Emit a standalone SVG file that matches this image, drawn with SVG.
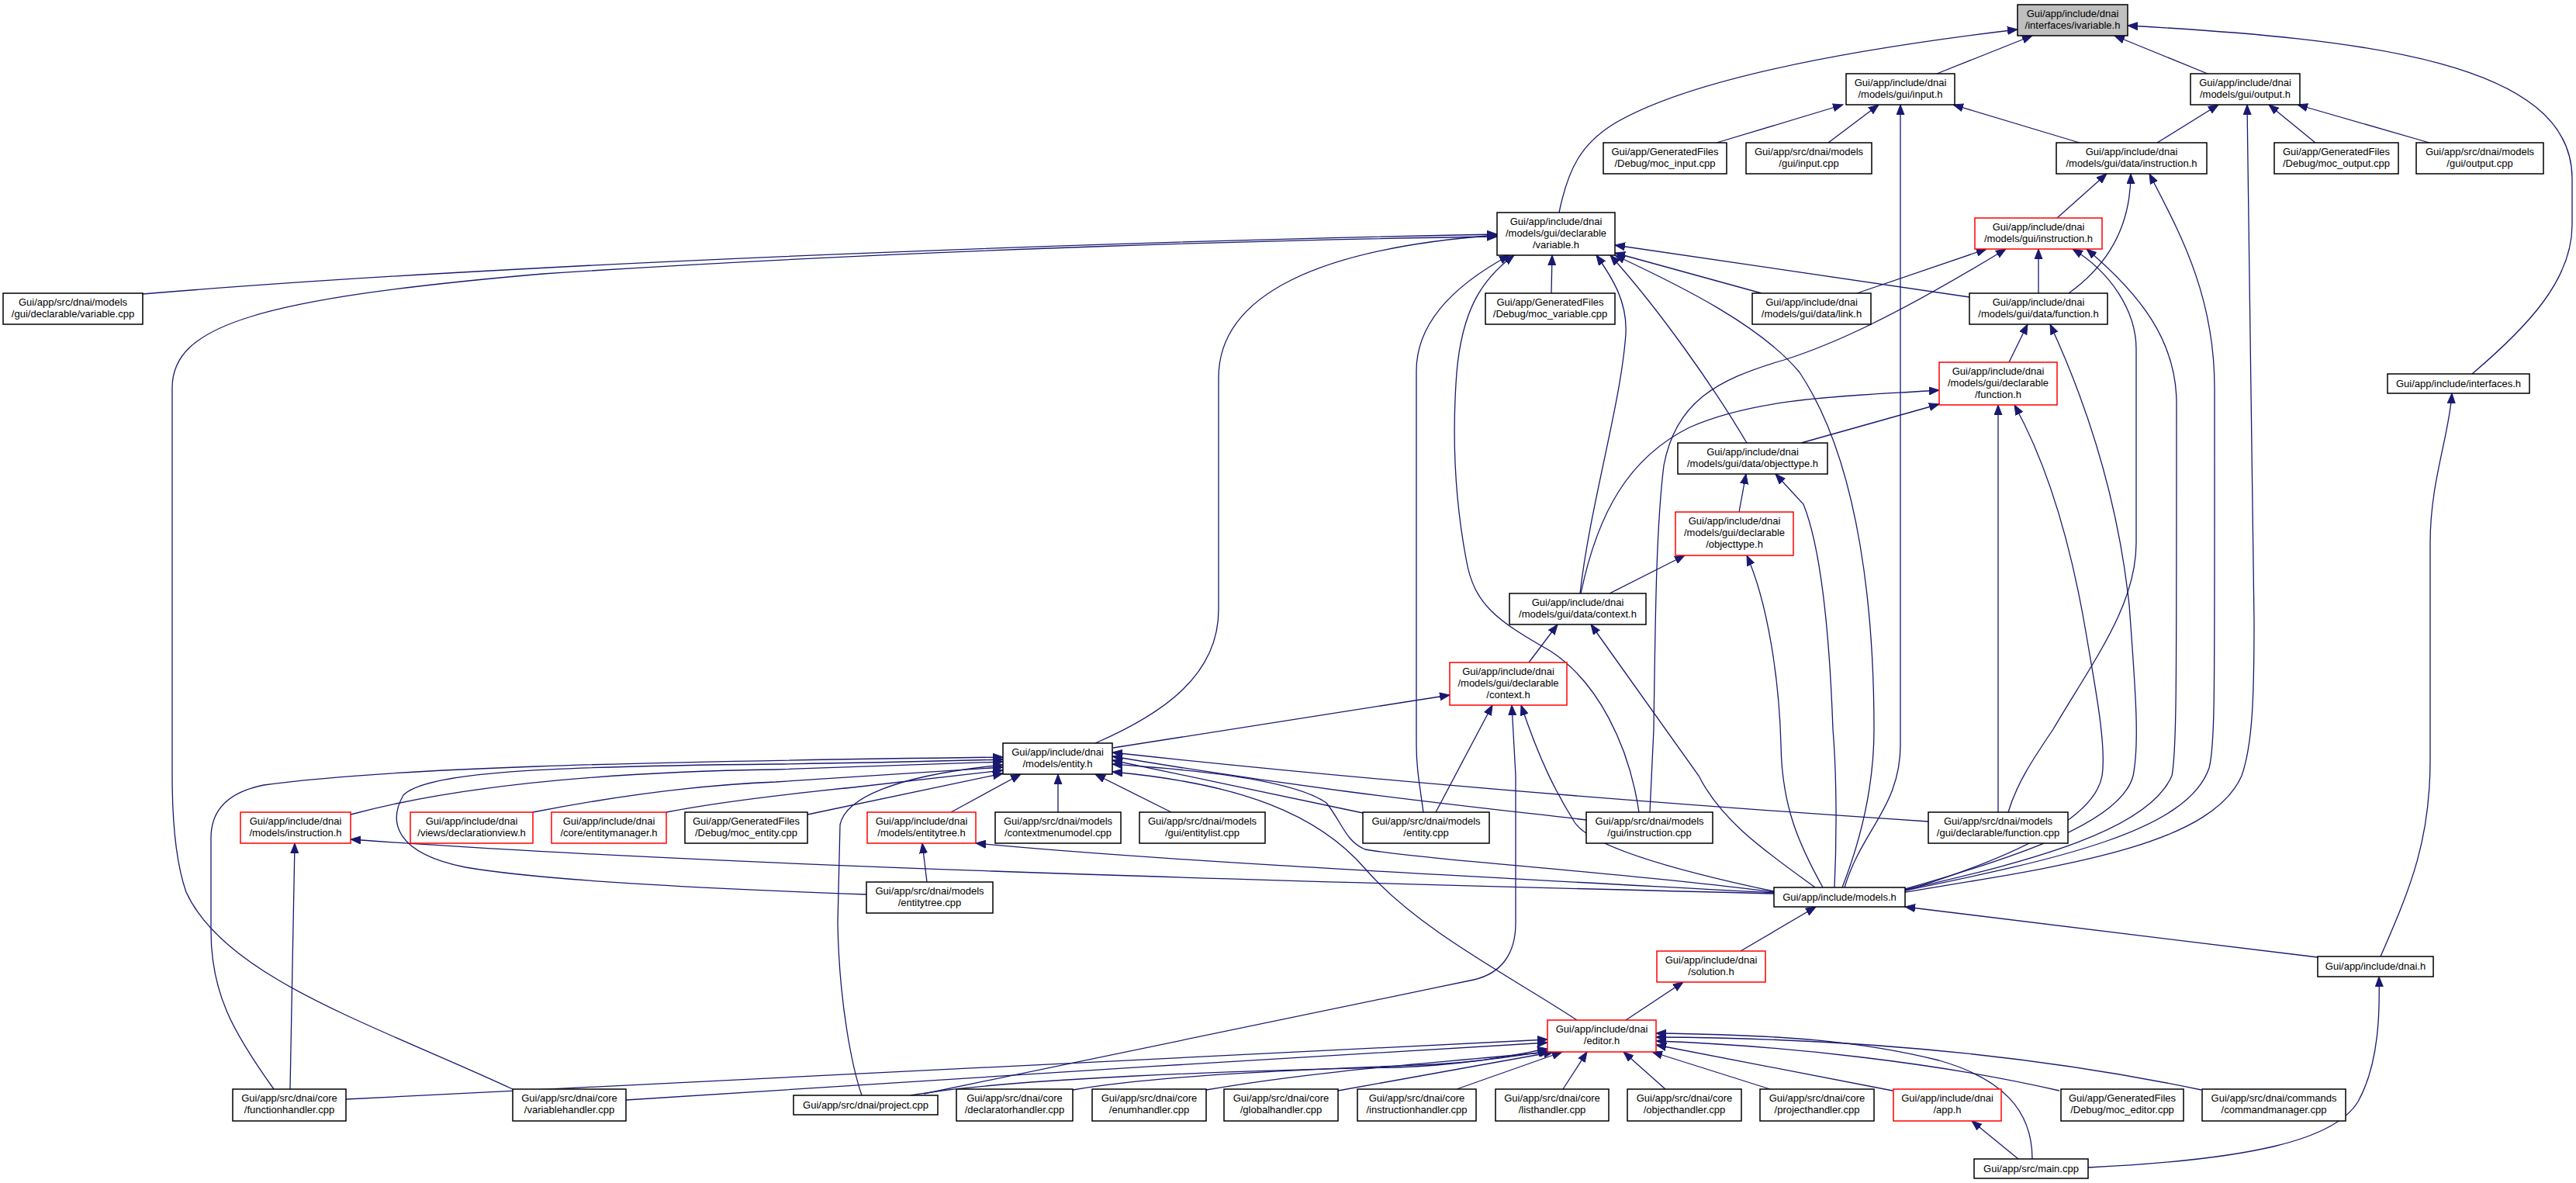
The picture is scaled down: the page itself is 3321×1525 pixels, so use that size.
<svg xmlns="http://www.w3.org/2000/svg" width="3321" height="1525" viewBox="0 0 3321 1525">
<style>
.n rect{fill:#fff;stroke:#000;stroke-width:1.5}
.n.r rect{stroke:#f00}
.n.g rect{fill:#bfbfbf}
text{font-family:"Liberation Sans",Arial,sans-serif;font-size:13px;text-anchor:middle;fill:#000}
#edges path{fill:none;stroke:#191970;stroke-width:1.3;marker-end:url(#a)}
</style>
<defs>
<marker id="a" markerUnits="userSpaceOnUse" markerWidth="14" markerHeight="11" refX="13" refY="5.5" orient="auto" viewBox="0 0 14 11">
<path d="M0,0.5 L13,5.5 L0,10.5 z" fill="#191970" stroke="#191970" stroke-width="1"/>
</marker>
</defs>
<rect width="3321" height="1525" fill="#fff"/>
<g id="edges">
<path d="M2497,95 L2620,46"/>
<path d="M2846,95 L2726,46"/>
<path d="M2010,274 C2022,215 2040,185 2080,160 C2180,100 2400,62 2601,38"/>
<path d="M3187,482 C3260,420 3316,360 3316,290 L3316,230 C3316,80 3050,50 2743,33"/>
<path d="M2213,184 L2376,135"/>
<path d="M2357,184 L2422,135"/>
<path d="M2681,184 L2518,135"/>
<path d="M2378,1144 C2400,1070 2450,1040 2450,960 L2450,135"/>
<path d="M2781,184 L2860,135"/>
<path d="M2985,184 L2925,135"/>
<path d="M3132,184 L2962,135"/>
<path d="M2456,1150 C2650,1118 2850,1092 2890,1000 C2904,960 2906,900 2906,800 L2897,135"/>
<path d="M2652,281 L2716,224"/>
<path d="M2667,378 C2720,340 2747,290 2747,224"/>
<path d="M2456,1148 C2650,1108 2820,1072 2848,990 C2856,960 2855,900 2855,500 C2855,380 2810,300 2771,224"/>
<path d="M184,379 C700,336 1500,310 1930,302"/>
<path d="M661,1404 C480,1320 290,1260 240,1150 C226,1110 222,1050 222,1000 L222,500 C222,420 330,385 700,353 C1200,320 1700,308 1930,305"/>
<path d="M1412,958 C1500,920 1571,870 1571,786 L1571,487 C1571,380 1700,320 1930,303"/>
<path d="M2000,378 L2001,329"/>
<path d="M1835,1047 C1830,1010 1826,990 1826,960 L1826,478 C1826,420 1870,370 1946,329"/>
<path d="M2113,1047 C2100,960 2060,880 2000,840 C1930,800 1900,780 1890,720 C1875,640 1872,560 1878,480 C1885,400 1910,360 1952,329"/>
<path d="M2037,765 C2050,650 2090,520 2096,430 C2098,390 2080,360 2058,329"/>
<path d="M2252,571 C2210,500 2140,400 2076,329"/>
<path d="M2271,378 L2082,326"/>
<path d="M2539,383 L2082,316"/>
<path d="M2375,1144 C2400,1080 2416,1010 2416,940 C2416,800 2400,600 2320,480 C2270,420 2170,370 2082,329"/>
<path d="M2394,378 L2561,321"/>
<path d="M2127,1047 L2132,940 C2134,800 2135,680 2145,600 C2160,520 2210,490 2300,464 C2360,445 2440,410 2586,321"/>
<path d="M2628,378 L2628,321"/>
<path d="M2589,1047 C2600,1010 2620,980 2647,940 C2700,850 2754,780 2754,700 L2754,450 C2754,400 2720,350 2672,321"/>
<path d="M2456,1147 C2620,1110 2770,1070 2800,1000 C2806,970 2806,900 2806,520 C2806,440 2760,380 2690,321"/>
<path d="M2590,467 L2614,418"/>
<path d="M2456,1146 C2600,1105 2735,1060 2750,1000 C2758,960 2754,900 2745,780 C2730,640 2690,520 2643,418"/>
<path d="M2038,765 C2060,660 2100,590 2178,551 C2270,510 2400,510 2500,503"/>
<path d="M2322,571 L2500,521"/>
<path d="M2576,1047 L2576,522"/>
<path d="M2456,1148 C2580,1110 2700,1060 2710,1000 C2716,960 2700,880 2690,820 C2670,700 2640,600 2597,522"/>
<path d="M2242,660 L2251,611"/>
<path d="M2365,1144 C2368,1080 2368,1000 2363,940 C2358,800 2345,700 2325,650 L2289,611"/>
<path d="M2075,765 L2172,716"/>
<path d="M2350,1144 C2320,1090 2297,1040 2296,960 C2294,880 2280,780 2252,716"/>
<path d="M1971,854 L2008,805"/>
<path d="M2340,1144 C2280,1100 2220,1060 2190,1000 L2051,805"/>
<path d="M1435,964 L1869,896"/>
<path d="M1851,1047 L1924,909"/>
<path d="M1191,1410 L1900,1263 C1935,1255 1954,1230 1954,1190 L1954,1000 L1949,909"/>
<path d="M2287,1149 C2150,1120 2050,1090 2030,1060 C2005,1020 1985,980 1961,909"/>
<path d="M2287,1150 C2100,1125 1850,1110 1760,1095 C1735,1085 1730,1060 1710,1035 C1660,1000 1500,990 1434,985"/>
<path d="M2287,1152 C1600,1135 900,1115 452,1082"/>
<path d="M2287,1151 C1900,1130 1500,1110 1258,1087"/>
<path d="M1117,1153 C900,1145 700,1135 600,1118 C510,1100 500,1060 520,1025 C550,995 700,988 1000,985 C1150,983 1250,980 1293,979"/>
<path d="M2033,1315 C1950,1260 1830,1200 1760,1120 C1700,1050 1600,1010 1434,995"/>
<path d="M1757,1048 L1434,980"/>
<path d="M2045,1057 C1900,1040 1700,1020 1434,975"/>
<path d="M2486,1059 C2200,1040 1800,1010 1434,970"/>
<path d="M1364,1047 L1364,998"/>
<path d="M1510,1047 L1412,998"/>
<path d="M1226,1047 L1316,998"/>
<path d="M1041,1050 L1293,997"/>
<path d="M859,1047 C920,1035 1000,1025 1100,1015 L1293,993"/>
<path d="M687,1047 C800,1025 900,1012 1000,1008 L1293,989"/>
<path d="M452,1050 C600,1010 800,995 1000,992 L1293,982"/>
<path d="M353,1404 C300,1330 272,1280 272,1200 L272,1080 C272,1040 300,1020 340,1012 C500,990 800,982 1293,976"/>
<path d="M1111,1412 C1100,1380 1082,1300 1080,1190 L1083,1063 C1090,1030 1150,1000 1293,986"/>
<path d="M374,1404 L380,1087"/>
<path d="M1195,1137 L1189,1087"/>
<path d="M446,1417 C1000,1385 1500,1360 1995,1340"/>
<path d="M807,1418 C1200,1395 1600,1365 1995,1344"/>
<path d="M1174,1412 C1300,1390 1600,1380 1800,1376 C1900,1372 1950,1360 1995,1352"/>
<path d="M1383,1405 C1500,1385 1700,1378 1850,1372 C1920,1368 1960,1360 1996,1355"/>
<path d="M1555,1405 C1700,1380 1850,1370 1998,1356"/>
<path d="M1725,1406 L2003,1356"/>
<path d="M1878,1404 L2014,1356"/>
<path d="M2015,1404 L2046,1356"/>
<path d="M2147,1404 L2093,1356"/>
<path d="M2282,1404 L2130,1356"/>
<path d="M2440,1406 L2135,1347"/>
<path d="M2655,1406 C2500,1370 2300,1348 2135,1342"/>
<path d="M2838,1405 C2600,1355 2350,1338 2135,1337"/>
<path d="M2620,1494 C2620,1430 2580,1390 2500,1367 C2400,1342 2300,1334 2135,1332"/>
<path d="M2602,1494 L2542,1445"/>
<path d="M2692,1505 C2900,1495 3010,1470 3040,1420 C3068,1370 3068,1300 3067,1259"/>
<path d="M2988,1234 L2456,1169"/>
<path d="M3069,1233 C3110,1140 3133,1080 3133,980 L3133,700 C3133,620 3158,560 3161,507"/>
<path d="M2244,1226 L2341,1169"/>
<path d="M2096,1315 L2170,1266"/>
</g>
<g id="ivariable" class="n g"><rect x="2601" y="6" width="142" height="40"/><text x="2672" y="22">Gui/app/include/dnai</text><text x="2672" y="37">/interfaces/ivariable.h</text></g>
<g id="input" class="n"><rect x="2380" y="95" width="140" height="40"/><text x="2450" y="111">Gui/app/include/dnai</text><text x="2450" y="126">/models/gui/input.h</text></g>
<g id="output" class="n"><rect x="2824" y="95" width="141" height="40"/><text x="2894.5" y="111">Gui/app/include/dnai</text><text x="2894.5" y="126">/models/gui/output.h</text></g>
<g id="moc_input" class="n"><rect x="2067" y="184" width="159" height="40"/><text x="2146.5" y="200">Gui/app/GeneratedFiles</text><text x="2146.5" y="215">/Debug/moc_input.cpp</text></g>
<g id="input_cpp" class="n"><rect x="2251" y="184" width="162" height="40"/><text x="2332" y="200">Gui/app/src/dnai/models</text><text x="2332" y="215">/gui/input.cpp</text></g>
<g id="data_instruction" class="n"><rect x="2651" y="184" width="194" height="40"/><text x="2748" y="200">Gui/app/include/dnai</text><text x="2748" y="215">/models/gui/data/instruction.h</text></g>
<g id="moc_output" class="n"><rect x="2932" y="184" width="160" height="40"/><text x="3012" y="200">Gui/app/GeneratedFiles</text><text x="3012" y="215">/Debug/moc_output.cpp</text></g>
<g id="output_cpp" class="n"><rect x="3115" y="184" width="164" height="40"/><text x="3197" y="200">Gui/app/src/dnai/models</text><text x="3197" y="215">/gui/output.cpp</text></g>
<g id="decl_variable" class="n"><rect x="1930" y="274" width="152" height="55"/><text x="2006" y="290">Gui/app/include/dnai</text><text x="2006" y="305">/models/gui/declarable</text><text x="2006" y="320">/variable.h</text></g>
<g id="gui_instruction" class="n r"><rect x="2546" y="281" width="164" height="40"/><text x="2628" y="297">Gui/app/include/dnai</text><text x="2628" y="312">/models/gui/instruction.h</text></g>
<g id="variable_cpp" class="n"><rect x="4" y="378" width="180" height="40"/><text x="94" y="394">Gui/app/src/dnai/models</text><text x="94" y="409">/gui/declarable/variable.cpp</text></g>
<g id="moc_variable" class="n"><rect x="1915" y="378" width="167" height="40"/><text x="1998.5" y="394">Gui/app/GeneratedFiles</text><text x="1998.5" y="409">/Debug/moc_variable.cpp</text></g>
<g id="data_link" class="n"><rect x="2259" y="378" width="153" height="40"/><text x="2335.5" y="394">Gui/app/include/dnai</text><text x="2335.5" y="409">/models/gui/data/link.h</text></g>
<g id="data_function" class="n"><rect x="2539" y="378" width="178" height="40"/><text x="2628" y="394">Gui/app/include/dnai</text><text x="2628" y="409">/models/gui/data/function.h</text></g>
<g id="decl_function" class="n r"><rect x="2500" y="467" width="152" height="55"/><text x="2576" y="483">Gui/app/include/dnai</text><text x="2576" y="498">/models/gui/declarable</text><text x="2576" y="513">/function.h</text></g>
<g id="interfaces" class="n"><rect x="3078" y="482" width="183" height="25"/><text x="3169.5" y="499">Gui/app/include/interfaces.h</text></g>
<g id="data_objecttype" class="n"><rect x="2163" y="571" width="193" height="40"/><text x="2259.5" y="587">Gui/app/include/dnai</text><text x="2259.5" y="602">/models/gui/data/objecttype.h</text></g>
<g id="decl_objecttype" class="n r"><rect x="2160" y="660" width="152" height="56"/><text x="2236" y="676">Gui/app/include/dnai</text><text x="2236" y="691">/models/gui/declarable</text><text x="2236" y="706">/objecttype.h</text></g>
<g id="data_context" class="n"><rect x="1946" y="765" width="176" height="40"/><text x="2034" y="781">Gui/app/include/dnai</text><text x="2034" y="796">/models/gui/data/context.h</text></g>
<g id="decl_context" class="n r"><rect x="1869" y="854" width="151" height="55"/><text x="1944.5" y="870">Gui/app/include/dnai</text><text x="1944.5" y="885">/models/gui/declarable</text><text x="1944.5" y="900">/context.h</text></g>
<g id="entity" class="n"><rect x="1293" y="958" width="141" height="40"/><text x="1363.5" y="974">Gui/app/include/dnai</text><text x="1363.5" y="989">/models/entity.h</text></g>
<g id="models_instruction" class="n r"><rect x="310" y="1047" width="142" height="40"/><text x="381" y="1063">Gui/app/include/dnai</text><text x="381" y="1078">/models/instruction.h</text></g>
<g id="declarationview" class="n r"><rect x="529" y="1047" width="158" height="40"/><text x="608" y="1063">Gui/app/include/dnai</text><text x="608" y="1078">/views/declarationview.h</text></g>
<g id="entitymanager" class="n r"><rect x="711" y="1047" width="148" height="40"/><text x="785" y="1063">Gui/app/include/dnai</text><text x="785" y="1078">/core/entitymanager.h</text></g>
<g id="moc_entity" class="n"><rect x="883" y="1047" width="158" height="40"/><text x="962" y="1063">Gui/app/GeneratedFiles</text><text x="962" y="1078">/Debug/moc_entity.cpp</text></g>
<g id="entitytree" class="n r"><rect x="1118" y="1047" width="140" height="40"/><text x="1188" y="1063">Gui/app/include/dnai</text><text x="1188" y="1078">/models/entitytree.h</text></g>
<g id="contextmenumodel" class="n"><rect x="1283" y="1047" width="162" height="40"/><text x="1364" y="1063">Gui/app/src/dnai/models</text><text x="1364" y="1078">/contextmenumodel.cpp</text></g>
<g id="entitylist" class="n"><rect x="1469" y="1047" width="162" height="40"/><text x="1550" y="1063">Gui/app/src/dnai/models</text><text x="1550" y="1078">/gui/entitylist.cpp</text></g>
<g id="entity_cpp" class="n"><rect x="1757" y="1047" width="163" height="40"/><text x="1838.5" y="1063">Gui/app/src/dnai/models</text><text x="1838.5" y="1078">/entity.cpp</text></g>
<g id="instruction_cpp" class="n"><rect x="2045" y="1047" width="163" height="40"/><text x="2126.5" y="1063">Gui/app/src/dnai/models</text><text x="2126.5" y="1078">/gui/instruction.cpp</text></g>
<g id="function_cpp" class="n"><rect x="2486" y="1047" width="180" height="40"/><text x="2576" y="1063">Gui/app/src/dnai/models</text><text x="2576" y="1078">/gui/declarable/function.cpp</text></g>
<g id="entitytree_cpp" class="n"><rect x="1117" y="1137" width="163" height="40"/><text x="1198.5" y="1153">Gui/app/src/dnai/models</text><text x="1198.5" y="1168">/entitytree.cpp</text></g>
<g id="models" class="n"><rect x="2287" y="1144" width="169" height="25"/><text x="2371.5" y="1161">Gui/app/include/models.h</text></g>
<g id="solution" class="n r"><rect x="2136" y="1226" width="140" height="40"/><text x="2206" y="1242">Gui/app/include/dnai</text><text x="2206" y="1257">/solution.h</text></g>
<g id="dnai" class="n"><rect x="2988" y="1233" width="149" height="26"/><text x="3062.5" y="1250">Gui/app/include/dnai.h</text></g>
<g id="editor" class="n r"><rect x="1995" y="1315" width="140" height="41"/><text x="2065" y="1331">Gui/app/include/dnai</text><text x="2065" y="1346">/editor.h</text></g>
<g id="functionhandler" class="n"><rect x="300" y="1404" width="146" height="41"/><text x="373" y="1420">Gui/app/src/dnai/core</text><text x="373" y="1435">/functionhandler.cpp</text></g>
<g id="variablehandler" class="n"><rect x="661" y="1404" width="146" height="41"/><text x="734" y="1420">Gui/app/src/dnai/core</text><text x="734" y="1435">/variablehandler.cpp</text></g>
<g id="project" class="n"><rect x="1023" y="1412" width="186" height="25"/><text x="1116" y="1429">Gui/app/src/dnai/project.cpp</text></g>
<g id="declaratorhandler" class="n"><rect x="1233" y="1404" width="150" height="41"/><text x="1308" y="1420">Gui/app/src/dnai/core</text><text x="1308" y="1435">/declaratorhandler.cpp</text></g>
<g id="enumhandler" class="n"><rect x="1408" y="1404" width="147" height="41"/><text x="1481.5" y="1420">Gui/app/src/dnai/core</text><text x="1481.5" y="1435">/enumhandler.cpp</text></g>
<g id="globalhandler" class="n"><rect x="1578" y="1404" width="147" height="41"/><text x="1651.5" y="1420">Gui/app/src/dnai/core</text><text x="1651.5" y="1435">/globalhandler.cpp</text></g>
<g id="instructionhandler" class="n"><rect x="1750" y="1404" width="153" height="41"/><text x="1826.5" y="1420">Gui/app/src/dnai/core</text><text x="1826.5" y="1435">/instructionhandler.cpp</text></g>
<g id="listhandler" class="n"><rect x="1928" y="1404" width="146" height="41"/><text x="2001" y="1420">Gui/app/src/dnai/core</text><text x="2001" y="1435">/listhandler.cpp</text></g>
<g id="objecthandler" class="n"><rect x="2098" y="1404" width="147" height="41"/><text x="2171.5" y="1420">Gui/app/src/dnai/core</text><text x="2171.5" y="1435">/objecthandler.cpp</text></g>
<g id="projecthandler" class="n"><rect x="2269" y="1404" width="147" height="41"/><text x="2342.5" y="1420">Gui/app/src/dnai/core</text><text x="2342.5" y="1435">/projecthandler.cpp</text></g>
<g id="app" class="n r"><rect x="2441" y="1404" width="139" height="41"/><text x="2510.5" y="1420">Gui/app/include/dnai</text><text x="2510.5" y="1435">/app.h</text></g>
<g id="moc_editor" class="n"><rect x="2657" y="1404" width="158" height="41"/><text x="2736" y="1420">Gui/app/GeneratedFiles</text><text x="2736" y="1435">/Debug/moc_editor.cpp</text></g>
<g id="commandmanager" class="n"><rect x="2839" y="1404" width="185" height="41"/><text x="2931.5" y="1420">Gui/app/src/dnai/commands</text><text x="2931.5" y="1435">/commandmanager.cpp</text></g>
<g id="main" class="n"><rect x="2545" y="1494" width="147" height="25"/><text x="2618.5" y="1511">Gui/app/src/main.cpp</text></g>
</svg>
